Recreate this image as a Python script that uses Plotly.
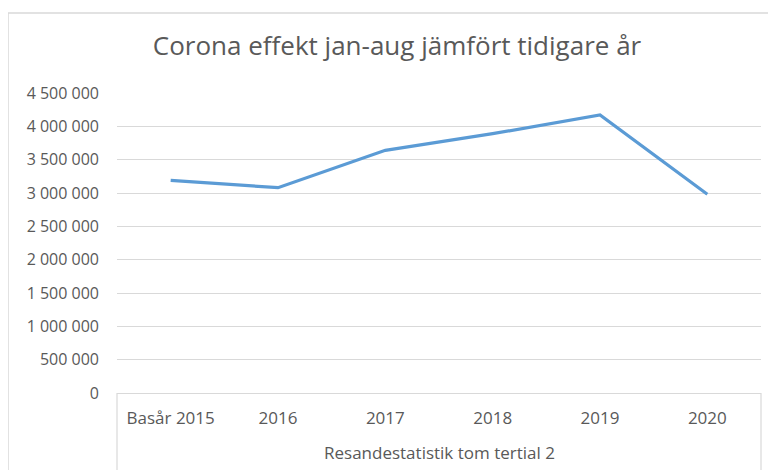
import plotly.graph_objects as go

categories = ["Basår 2015", "2016", "2017", "2018", "2019", "2020"]
values = [3190000, 3080000, 3640000, 3890000, 4170000, 2980000]
y_ticks = [0, 500000, 1000000, 1500000, 2000000, 2500000, 3000000, 3500000, 4000000, 4500000]

title_text = "Corona effekt jan-aug jämfört tidigare år"
axis_title = "Resandestatistik tom tertial 2"

FONT = "Open Sans"
TXT = "#595959"
GRID = "#d9d9d9"

W, H = 768, 462
L, R, T, B = 109, 15, 85, 77
PW, PH = W - L - R, H - T - B

fig = go.Figure()
fig.add_trace(go.Scatter(
    x=categories, y=values, mode="lines",
    line=dict(color="#5b9bd5", width=3.2),
    hoverinfo="skip", showlegend=False,
))

fig.update_layout(
    width=W, height=H,
    margin=dict(l=L, r=R, t=T, b=B),
    paper_bgcolor="white", plot_bgcolor="white",
    separators=", ",
    font=dict(family=FONT, color=TXT),
    title=dict(text=title_text, x=389 / W, xanchor="center",
               y=1 - 38 / H, yanchor="middle",
               font=dict(family=FONT, size=26, color=TXT)),
    xaxis=dict(
        type="category", range=[-0.5, 5.5],
        showgrid=False, zeroline=False,
        showline=True, linecolor=GRID, linewidth=1.2,
        ticks="", tickfont=dict(family=FONT, size=17, color=TXT),
        ticklabelstandoff=9,
    ),
    yaxis=dict(
        range=[0, 4500000], tickvals=y_ticks, tickformat=",d",
        showgrid=True, gridcolor=GRID, gridwidth=1.2,
        zeroline=False, showline=False, ticks="",
        tickfont=dict(family=FONT, size=16, color=TXT),
        ticklabelstandoff=17,
    ),
    annotations=[dict(
        text=axis_title, xref="paper", yref="paper",
        x=0.5, y=-59 / PH, xanchor="center", yanchor="middle",
        showarrow=False, font=dict(family=FONT, size=17, color=TXT),
    )],
    shapes=[
        dict(type="line", xref="paper", yref="paper", x0=0, x1=0, y0=0, y1=-0.3,
             line=dict(color=GRID, width=1.2)),
        dict(type="line", xref="paper", yref="paper", x0=1, x1=1, y0=0, y1=-0.3,
             line=dict(color=GRID, width=1.2)),
        dict(type="rect", xref="paper", yref="paper",
             x0=(0 - L) / PW, x1=1.2, y0=-0.4, y1=(PH + T - 5) / PH,
             line=dict(color=GRID, width=1.5), layer="below"),
    ],
)

fig.write_html("out.html")
